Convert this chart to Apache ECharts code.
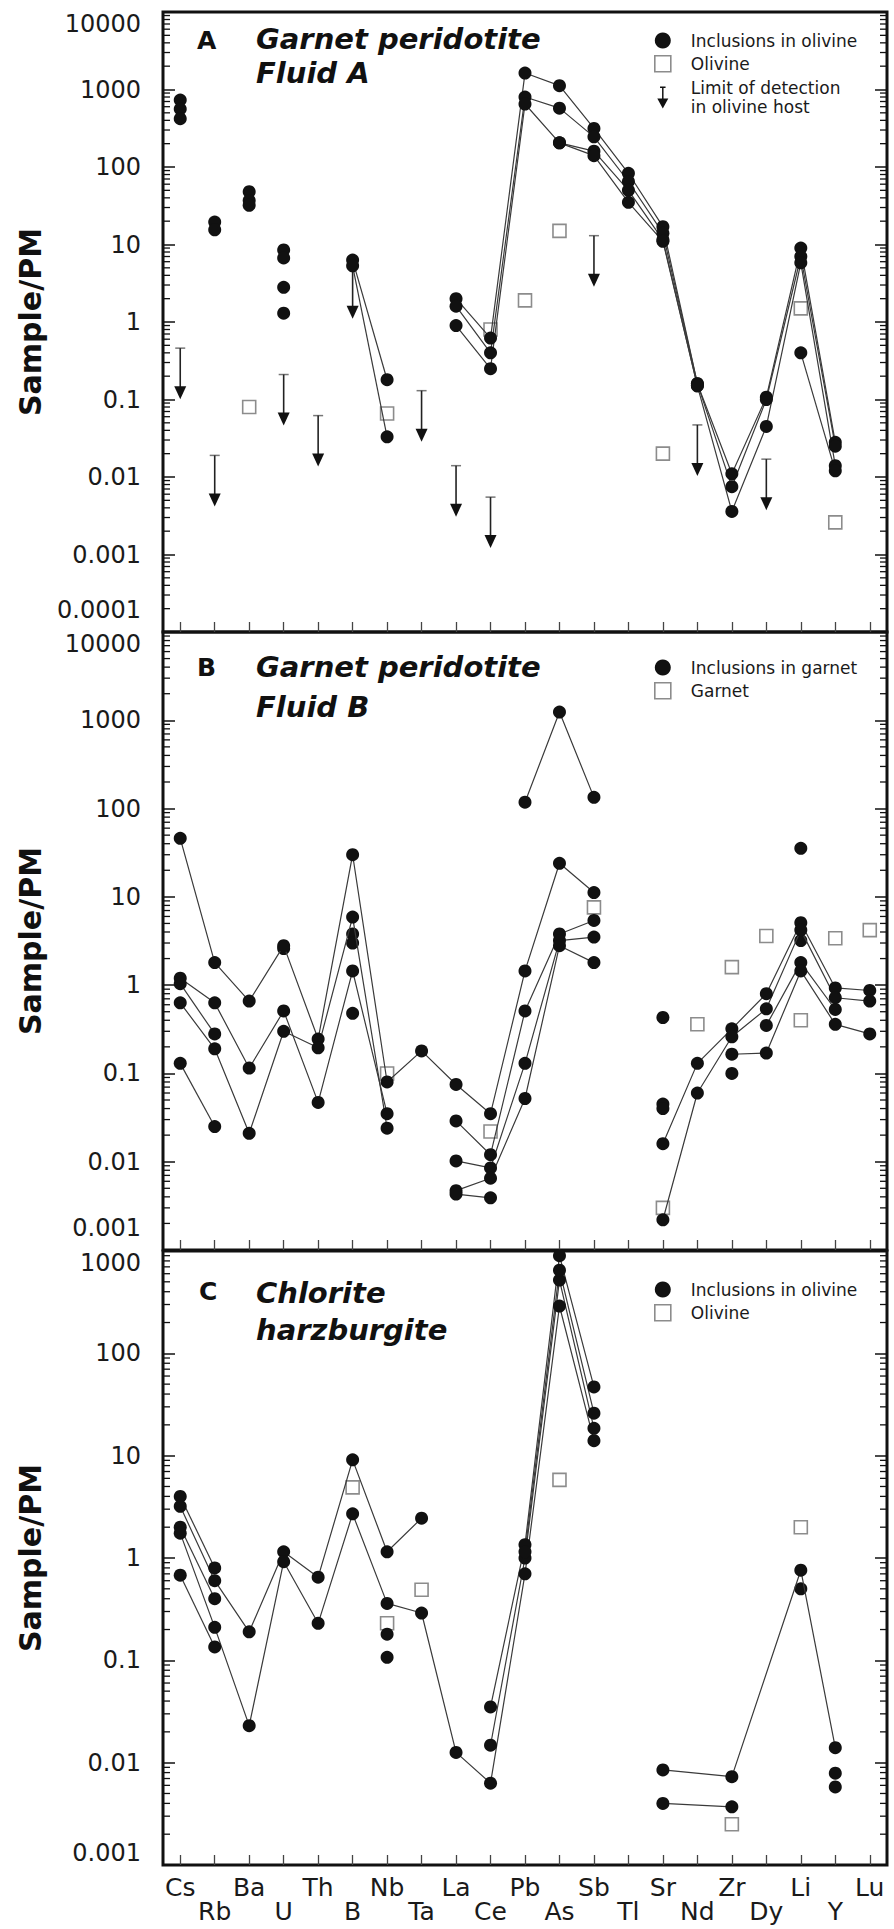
<!DOCTYPE html>
<html>
<head>
<meta charset="utf-8">
<script src="https://cdn.jsdelivr.net/npm/echarts@6/dist/echarts.min.js"></script>
<style>
  html, body { margin: 0; padding: 0; background: #fff; }
  #chart { width: 894px; height: 1929px; }
</style>
</head>
<body>
<div id="chart"></div>
<script>
// Element order along the x axis (primitive-mantle normalised spider diagram)
const elements = ['Cs','Rb','Ba','U','Th','B','Nb','Ta','La','Ce','Pb','As','Sb','Tl','Sr','Nd','Zr','Dy','Li','Y','Lu'];

// ---------- Panel A: garnet peridotite, fluid A (inclusions in olivine) ----------
const aProfiles = [
  [['B',6.3],['Nb',0.18]],
  [['B',5.3],['Nb',0.033]],
  [['La',2.0],['Ce',0.62],['Pb',1630],['As',1120],['Sb',315],['Tl',83],['Sr',17],['Nd',0.16],['Zr',0.011],['Dy',0.107],['Li',9.0],['Y',0.028]],
  [['La',1.6],['Ce',0.40],['Pb',800],['As',575],['Sb',245],['Tl',65],['Sr',14],['Nd',0.16],['Zr',0.0075],['Dy',0.10],['Li',7.0],['Y',0.025]],
  [['La',0.9],['Ce',0.25],['Pb',650],['As',205],['Sb',160],['Tl',50],['Sr',11.5],['Nd',0.15],['Zr',0.0036],['Dy',0.045],['Li',5.8],['Y',0.014]],
  [['As',205],['Sb',140],['Tl',35],['Sr',11],['Nd',0.15]],
  [['Li',0.4],['Y',0.012]]
];
const aSingleInclusions = [
  ['Cs',730],['Cs',560],['Cs',420],
  ['Rb',19.5],['Rb',15.5],
  ['Ba',48],['Ba',37],['Ba',32],
  ['U',8.5],['U',6.7],['U',2.8],['U',1.3]
];
const aOlivine = [['Ba',0.08],['Nb',0.066],['Ce',0.8],['Pb',1.9],['As',15],['Sr',0.02],['Li',1.5],['Y',0.0026]];
const aDetectionLimits = [
  ['Cs',0.46],['Rb',0.019],['U',0.21],['Th',0.062],['B',5.0],['Ta',0.13],
  ['La',0.014],['Ce',0.0055],['Sb',13],['Nd',0.047],['Dy',0.017]
];

// ---------- Panel B: garnet peridotite, fluid B (inclusions in garnet) ----------
const bProfiles = [
  [['Cs',46],['Rb',1.8],['Ba',0.66],['U',2.8],['Th',0.245],['B',30],['Nb',0.08],['Ta',0.18],['La',0.075],['Ce',0.035],['Pb',1.45],['As',24],['Sb',11.2]],
  [['Cs',1.2],['Rb',0.63],['Ba',0.115],['U',0.51],['Th',0.047],['B',1.45],['Nb',0.035]],
  [['Cs',1.04],['Rb',0.28]],
  [['Cs',0.63],['Rb',0.19],['Ba',0.021],['U',0.3],['Th',0.195],['B',5.9],['Nb',0.024]],
  [['Cs',0.13],['Rb',0.025]],
  [['Pb',118],['As',1240],['Sb',134]],
  [['La',0.029],['Ce',0.012],['Pb',0.51],['As',3.8],['Sb',5.4]],
  [['La',0.0102],['Ce',0.0085],['Pb',0.13],['As',3.2],['Sb',3.5]],
  [['La',0.0047],['Ce',0.0065],['Pb',0.052],['As',2.8],['Sb',1.8]],
  [['La',0.0043],['Ce',0.0039]],
  [['Sr',0.016],['Nd',0.13],['Zr',0.32],['Dy',0.8],['Li',5.1],['Y',0.93],['Lu',0.87]],
  [['Sr',0.0022],['Nd',0.06],['Zr',0.26],['Dy',0.54],['Li',4.2],['Y',0.72],['Lu',0.66]],
  [['Dy',0.35],['Li',1.8],['Y',0.53]],
  [['Zr',0.165],['Dy',0.17],['Li',1.45],['Y',0.36],['Lu',0.28]]
];
const bSingleInclusions = [
  ['U',2.6],['B',3.8],['B',3.0],['B',0.48],['Sr',0.43],['Sr',0.045],['Sr',0.04],
  ['Zr',0.1],['Li',35.5],['Li',3.2]
];
const bGarnet = [['Nb',0.1],['Ce',0.022],['Sb',7.6],['Sr',0.003],['Nd',0.36],['Zr',1.6],['Dy',3.6],['Li',0.4],['Y',3.4],['Lu',4.2]];

// ---------- Panel C: chlorite harzburgite (inclusions in olivine) ----------
const cProfiles = [
  [['Cs',4.0],['Rb',0.8]],
  [['Cs',3.2],['Rb',0.6],['Ba',0.19],['U',1.15],['Th',0.65],['B',9.1],['Nb',1.15],['Ta',2.45]],
  [['Cs',2.0],['Rb',0.4]],
  [['Cs',1.75],['Rb',0.21],['Ba',0.023],['U',0.92],['Th',0.23],['B',2.7],['Nb',0.36],['Ta',0.29],['La',0.0126],['Ce',0.0063],['Pb',0.7],['As',290],['Sb',14]],
  [['Cs',0.68],['Rb',0.135]],
  [['Ce',0.0148],['Pb',1.0],['As',520],['Sb',18.5]],
  [['Ce',0.035],['Pb',1.35],['As',900],['Sb',47]],
  [['Pb',1.15],['As',650],['Sb',26]],
  [['Sr',0.0085],['Zr',0.0073],['Li',0.76],['Y',0.014]],
  [['Sr',0.004],['Zr',0.0037]]
];
const cSingleInclusions = [['Nb',0.18],['Nb',0.107],['Li',0.5],['Y',0.0079],['Y',0.0058]];
const cOlivine = [['B',4.9],['Nb',0.23],['Ta',0.49],['As',5.8],['Zr',0.0025],['Li',2.0]];

// Axis ranges (Sample/PM) for the three panels
const yRanges = [[0.0001, 10000], [0.001, 10000], [0.001, 1000]];
const minorTickFactors = [2, 3, 4, 5, 6, 7, 8, 9];
// Extra lift (px) of the lowest tick label in each panel
const minLabelLift = [10, 10, 0];

// ---------- layout & styles ----------
const FONT = 'DejaVu Sans';
const GRID_LEFT = 163, GRID_WIDTH = 724;
const panelBoxes = [{ top: 12, height: 620 }, { top: 632, height: 618 }, { top: 1251, height: 614 }];
const DOT = { symbol: 'circle', symbolSize: 13, color: '#111' };
const LINE = { color: '#3a3a3a', width: 1.2 };
const HOST = { color: '#fff', borderColor: '#8c8c8c', borderWidth: 1.6, opacity: 1 };
const LABEL_TEXT = { fontFamily: FONT, fontSize: 24, color: '#1a1a1a' };

const idx = name => elements.indexOf(name);
const toXY = list => list.map(([el, v]) => [idx(el), v]);

function decadeText(v) {
  const e = Math.round(Math.log10(v));
  return e >= 0 ? String(Math.pow(10, e)) : '0.' + '0'.repeat(-e - 1) + '1';
}

function makeLabelFormatter(range) {
  const lo = Math.round(Math.log10(range[0]));
  return v => {
    const e = Math.round(Math.log10(v));
    return e === lo ? '{lo|' + decadeText(v) + '}' : decadeText(v);
  };
}

function minorTickValues([lo, hi]) {
  const out = [];
  for (let e = Math.round(Math.log10(lo)); e < Math.round(Math.log10(hi)); e++) {
    minorTickFactors.forEach(f => out.push([0, f * Math.pow(10, e)]));
  }
  return out;
}

function renderMinorTick(params, api) {
  const cs = params.coordSys;
  const y = api.coord([0, api.value(1)])[1];
  const style = { stroke: '#111', lineWidth: 1.3 };
  return {
    type: 'group',
    children: [
      { type: 'line', shape: { x1: cs.x, y1: y, x2: cs.x + 7, y2: y }, style },
      { type: 'line', shape: { x1: cs.x + cs.width, y1: y, x2: cs.x + cs.width - 7, y2: y }, style }
    ]
  };
}

// Detection-limit marker: capped bar from the limit value down to an arrowhead
function renderDetectionLimit(params, api) {
  const p = api.coord([api.value(0), api.value(1)]);
  const x = p[0], y0 = p[1], tip = y0 + 51;
  return {
    type: 'group',
    children: [
      { type: 'line', shape: { x1: x - 5, y1: y0, x2: x + 5, y2: y0 }, style: { stroke: '#777', lineWidth: 1.5 } },
      { type: 'line', shape: { x1: x, y1: y0, x2: x, y2: tip - 8 }, style: { stroke: '#222', lineWidth: 1.6 } },
      { type: 'polygon', shape: { points: [[x - 6, tip - 13], [x + 6, tip - 13], [x, tip]] }, style: { fill: '#111' } }
    ]
  };
}

const grids = panelBoxes.map(b => ({
  left: GRID_LEFT, width: GRID_WIDTH, top: b.top, height: b.height,
  show: true, borderColor: '#111', borderWidth: 3, backgroundColor: 'transparent'
}));

const xAxes = panelBoxes.map((b, i) => ({
  type: 'category', gridIndex: i, data: elements, boundaryGap: true,
  axisLine: { show: false },
  axisTick: { show: true, inside: true, alignWithLabel: true, interval: 0, length: 10, lineStyle: { color: '#444', width: 1.3 } },
  axisLabel: i === 2 ? {
    show: true, interval: 0, margin: 10, fontFamily: FONT, fontSize: 25, color: '#1a1a1a', lineHeight: 24,
    formatter: (v, n) => (n % 2 ? '\n' + v : v)
  } : { show: false },
  splitLine: { show: false }
}));

const yAxes = [];
yRanges.forEach((r, i) => {
  yAxes.push({
    type: 'log', logBase: 10, gridIndex: i, min: r[0], max: r[1], splitNumber: 10,
    axisLine: { show: false },
    axisTick: { show: true, inside: true, length: 12, lineStyle: { color: '#111', width: 1.5 } },
    axisLabel: {
      ...LABEL_TEXT, margin: 22, formatter: makeLabelFormatter(r),
      verticalAlignMinLabel: 'bottom', verticalAlignMaxLabel: 'top',
      rich: { lo: { ...LABEL_TEXT, padding: [0, 0, minLabelLift[i], 0] } }
    },
    splitLine: { show: false },
    name: 'Sample/PM', nameLocation: 'middle', nameGap: 118,
    nameTextStyle: { fontFamily: FONT, fontSize: 30, fontWeight: 'bold', color: '#111' }
  });
  yAxes.push({
    type: 'log', logBase: 10, gridIndex: i, min: r[0], max: r[1], splitNumber: 10, position: 'right',
    axisLine: { show: false },
    axisTick: { show: true, inside: true, length: 12, lineStyle: { color: '#111', width: 1.5 } },
    axisLabel: { show: false },
    splitLine: { show: false }
  });
});

const series = [];
function addPanel(i, profiles, singles, host, inclName, hostName) {
  const axes = { xAxisIndex: i, yAxisIndex: i * 2 };
  series.push({
    type: 'custom', ...axes, silent: true, renderItem: renderMinorTick,
    data: minorTickValues(yRanges[i]), encode: { x: 0, y: 1 }
  });
  series.push({
    type: 'scatter', name: hostName, ...axes, symbol: 'rect', symbolSize: 13,
    itemStyle: HOST, data: toXY(host)
  });
  profiles.forEach(p => series.push({
    type: 'line', name: inclName, ...axes, data: toXY(p),
    symbol: DOT.symbol, symbolSize: DOT.symbolSize, showSymbol: true,
    itemStyle: { color: DOT.color, opacity: 1 }, lineStyle: LINE
  }));
  series.push({
    type: 'scatter', name: inclName, ...axes, symbol: DOT.symbol, symbolSize: DOT.symbolSize,
    itemStyle: { color: DOT.color, opacity: 1 }, data: toXY(singles)
  });
}
addPanel(0, aProfiles, aSingleInclusions, aOlivine, 'Inclusions in olivine', 'Olivine');
addPanel(1, bProfiles, bSingleInclusions, bGarnet, 'Inclusions in garnet', 'Garnet');
addPanel(2, cProfiles, cSingleInclusions, cOlivine, 'Inclusions in olivine', 'Olivine');
series.push({
  type: 'custom', name: 'Limit of detection\nin olivine host', xAxisIndex: 0, yAxisIndex: 0,
  renderItem: renderDetectionLimit, itemStyle: { color: '#111' },
  data: toXY(aDetectionLimits), encode: { x: 0, y: 1 }
});

const SQUARE_ICON = 'path://M0,0H10V10H0Z';
const LOD_ICON = 'path://M5,0H11V1.6H5Z M7.2,1.6H8.8V14H7.2Z M2,13H14L8,24Z';
function legendAt(top, inclName, hostName, extra) {
  const data = [
    { name: inclName, icon: 'circle' },
    { name: hostName, icon: SQUARE_ICON, itemStyle: HOST }
  ];
  if (extra) data.push(extra);
  return {
    left: 654, top, orient: 'vertical', itemWidth: 16, itemHeight: 22, itemGap: 6,
    selectedMode: false, padding: 0, symbolKeepAspect: true,
    textStyle: { fontFamily: FONT, fontSize: 17, color: '#1a1a1a', padding: [0, 0, 0, 15] },
    data
  };
}

const titleStyle = { fontFamily: FONT, fontWeight: 'bold', fontSize: 25, color: '#111' };
const subStyle = lh => ({ fontFamily: FONT, fontWeight: 'bold', fontStyle: 'italic', fontSize: 29, lineHeight: lh, color: '#111' });

const option = {
  animation: false,
  backgroundColor: '#fff',
  title: [
    { text: 'A', left: 197, top: 28, padding: 0, textStyle: titleStyle },
    { text: 'Garnet peridotite\nFluid A', left: 256, top: 22, padding: 0, textStyle: subStyle(34) },
    { text: 'B', left: 197, top: 655, padding: 0, textStyle: titleStyle },
    { text: 'Garnet peridotite\nFluid B', left: 256, top: 647, padding: 0, textStyle: subStyle(40) },
    { text: 'C', left: 199, top: 1279, padding: 0, textStyle: titleStyle },
    { text: 'Chlorite\nharzburgite', left: 256, top: 1274, padding: 0, textStyle: subStyle(37) }
  ],
  legend: [
    legendAt(32, 'Inclusions in olivine', 'Olivine',
      { name: 'Limit of detection\nin olivine host', icon: LOD_ICON, textStyle: { lineHeight: 19 } }),
    legendAt(659, 'Inclusions in garnet', 'Garnet'),
    legendAt(1281, 'Inclusions in olivine', 'Olivine')
  ],
  grid: grids,
  xAxis: xAxes,
  yAxis: yAxes,
  series
};

const chart = echarts.init(document.getElementById('chart'), null, { renderer: 'svg' });
chart.setOption(option);
</script>
</body>
</html>
